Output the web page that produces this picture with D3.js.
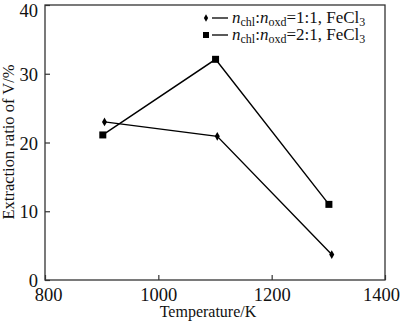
<!DOCTYPE html>
<html><head><meta charset="utf-8">
<script src="https://cdn.jsdelivr.net/npm/d3@7"></script>
<style>body{margin:0;background:#fff}svg{display:block}svg text{font-family:"Liberation Serif","Times New Roman",serif !important;fill:#111}</style>
</head><body>
<script>
const series1Temp = [905, 1104, 1306];
const series1Vals = [23.0, 20.9, 3.7];
const series2Temp = [902, 1101, 1301];
const series2Vals = [21.1, 32.1, 11.0];
const xTicks = [800, 1000, 1200, 1400];
const yTicks = [0, 10, 20, 30, 40];

const W = 400, H = 323;
const m = {l: 45, r: 15, t: 5, b: 43};
const svg = d3.select("body").append("svg").attr("width", W).attr("height", H)
  .style("font-family", "'Liberation Serif', serif");
const x = d3.scaleLinear().domain([800, 1400]).range([m.l, W - m.r]);
const y = d3.scaleLinear().domain([0, 40]).range([H - m.b, m.t]);

const axCol = "#333";
svg.append("rect").attr("x", x(800)).attr("y", y(40)).attr("width", x(1400) - x(800)).attr("height", y(0) - y(40))
  .attr("fill", "none").attr("stroke", axCol).attr("stroke-width", 1.3);

const xa = svg.append("g").attr("transform", `translate(0,${y(0)})`)
  .call(d3.axisBottom(x).tickValues(xTicks).tickSize(-5).tickPadding(8).tickFormat(d3.format("d")));
const ya = svg.append("g").attr("transform", `translate(${x(800)},0)`)
  .call(d3.axisLeft(y).tickValues(yTicks).tickSize(-5).tickPadding(7));
[xa, ya].forEach(a => {
  a.attr("font-family", "'Liberation Serif', serif");
  a.select(".domain").remove();
  a.selectAll(".tick line").attr("stroke", axCol).attr("stroke-width", 1.2);
  a.selectAll(".tick text").style("font-size", "18.5px").style("font-family", "'Liberation Serif', serif").attr("fill", "#111");
});
xa.selectAll(".tick text").attr("dy", "0.72em").attr("dx", d => d === 1400 ? -4 : (d === 800 ? 3 : 0));
ya.selectAll(".tick text").attr("dy", d => d === 40 ? "0.62em" : "0.36em");

svg.append("text").attr("x", 208).attr("y", 317).attr("text-anchor", "middle").style("font-size", "16px").text("Temperature/K");
svg.append("text").attr("transform", "translate(14,142) rotate(-90)").attr("text-anchor", "middle").style("font-size", "16.5px").text("Extraction ratio of V/%");

const line = d3.line().x(d => x(d[0])).y(d => y(d[1]));
const d1 = series1Temp.map((t, i) => [t, series1Vals[i]]);
const d2 = series2Temp.map((t, i) => [t, series2Vals[i]]);
svg.append("path").datum(d1).attr("d", line).attr("fill", "none").attr("stroke", "#000").attr("stroke-width", 1.4);
svg.append("path").datum(d2).attr("d", line).attr("fill", "none").attr("stroke", "#000").attr("stroke-width", 1.4);

const diamond = d3.symbol().type(d3.symbolDiamond).size(22);
svg.selectAll(".m1").data(d1).enter().append("path")
  .attr("transform", d => `translate(${x(d[0])},${y(d[1])})`).attr("d", diamond).attr("fill", "#000");
svg.selectAll(".m2").data(d2).enter().append("rect")
  .attr("x", d => x(d[0]) - 3.5).attr("y", d => y(d[1]) - 3.5).attr("width", 7).attr("height", 7).attr("fill", "#000");

// legend
const legRows = [{lab: "1:1", y: 18, sym: "d"}, {lab: "2:1", y: 35, sym: "s"}];
legRows.forEach(r => {
  if (r.sym === "d") svg.append("path").attr("transform", `translate(206,${r.y})`).attr("d", d3.symbol().type(d3.symbolDiamond).size(16)).attr("fill", "#000");
  else svg.append("rect").attr("x", 203).attr("y", r.y - 3).attr("width", 6).attr("height", 6).attr("fill", "#000");
  svg.append("line").attr("x1", 212).attr("x2", 228).attr("y1", r.y).attr("y2", r.y).attr("stroke", "#000").attr("stroke-width", 1.3);
  const t = svg.append("text").attr("x", 232).attr("y", r.y + 5).style("font-size", "17px");
  t.append("tspan").style("font-style", "italic").text("n");
  t.append("tspan").attr("dy", 3).style("font-size", "12px").text("chl");
  t.append("tspan").attr("dy", -3).text(":");
  t.append("tspan").style("font-style", "italic").text("n");
  t.append("tspan").attr("dy", 3).style("font-size", "12px").text("oxd");
  t.append("tspan").attr("dy", -3).text("=" + r.lab + ", FeCl");
  t.append("tspan").attr("dy", 3).style("font-size", "12px").text("3");
});
</script>
</body></html>
